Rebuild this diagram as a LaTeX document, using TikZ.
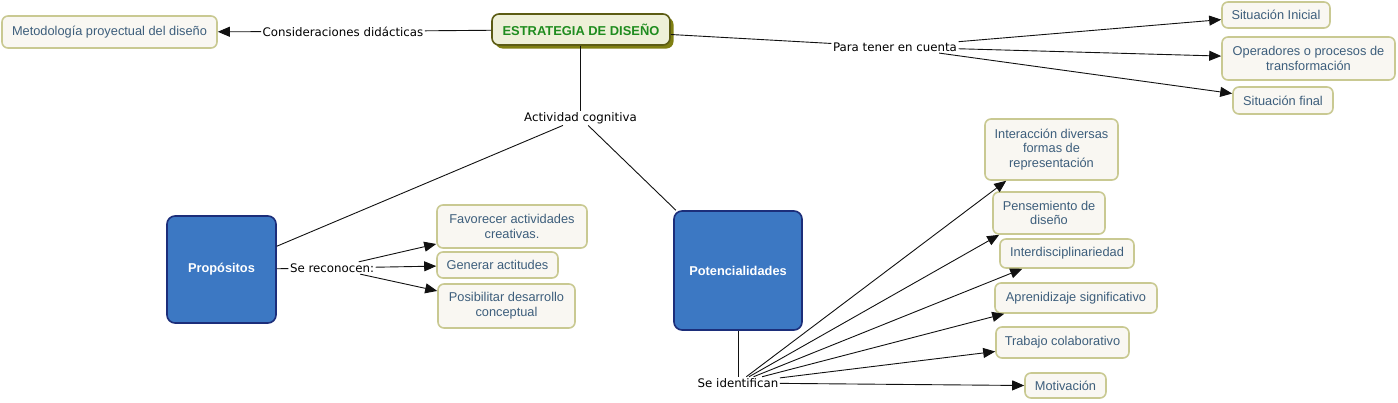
\documentclass[tikz,border=0pt]{standalone}
\usepackage{fontspec}
\usetikzlibrary{arrows.meta,shadows}
\newfontfamily\lblfont{DejaVu Sans}
\newfontfamily\boxfont{Liberation Sans}
\definecolor{boxfill}{HTML}{F9F7F2}
\definecolor{boxborder}{HTML}{C9C992}
\definecolor{boxtext}{HTML}{3D5E7C}
\definecolor{rootfill}{HTML}{EEF0D8}
\definecolor{rootborder}{HTML}{5C5C14}
\definecolor{rootshadow}{HTML}{7F7F12}
\definecolor{roottext}{HTML}{1F8C1F}
\definecolor{bluefill}{HTML}{3C78C3}
\definecolor{blueborder}{HTML}{1C2E7A}
\definecolor{linecol}{HTML}{111111}
\tikzset{
  cbox/.style={draw=boxborder, line width=1.6pt, fill=boxfill, rounded corners=6pt,
    text=boxtext, font=\boxfont\fontsize{12.8}{14.8}\selectfont, align=center,
    inner sep=0pt},
  bbox/.style={draw=blueborder, line width=1.6pt, fill=bluefill, rounded corners=8pt,
    text=white, font=\boxfont\bfseries\fontsize{12.8}{15}\selectfont, align=center,
    inner sep=0pt},
  rootbox/.style={draw=rootborder, line width=1.6pt, fill=rootfill, rounded corners=7pt,
    text=roottext, font=\boxfont\bfseries\fontsize{12.9}{15}\selectfont, inner sep=0pt,
    drop shadow={shadow xshift=3.5pt, shadow yshift=-3.5pt, fill=rootshadow, opacity=1}},
  lbl/.style={font=\lblfont\fontsize{11.8}{14}\selectfont, text=black, inner sep=1.5pt},
  conn/.style={draw=linecol, line width=0.9pt},
  arr/.style={conn, -{Triangle[length=12pt,width=10pt]}},
}
\begin{document}
\begin{tikzpicture}[x=1pt,y=-1pt]
\useasboundingbox (0,0) rectangle (1398,402);

% nodes
\node[rootbox, minimum width=178pt, minimum height=31pt] (root) at (581,29.5) {ESTRATEGIA DE DISEÑO};
\node[cbox, minimum width=215pt, minimum height=32pt] (met) at (109.5,32) {Metodología proyectual del diseño};
\node[lbl] (cons) at (343,31.5) {Consideraciones didácticas};
\node[lbl] (pt) at (895,47) {Para tener en cuenta};
\node[cbox, minimum width=108pt, minimum height=26pt] (si1) at (1276,15) {Situación Inicial};
\node[cbox, minimum width=173pt, minimum height=43pt] (op) at (1308.5,58.5) {Operadores o procesos de\\transformación};
\node[cbox, minimum width=100pt, minimum height=27pt] (sf) at (1283,100.5) {Situación final};
\node[lbl] (ac) at (580.5,118) {Actividad cognitiva};

\node[bbox, minimum width=109pt, minimum height=107pt] (prop) at (221.5,269.5) {Propósitos};
\node[lbl] (sr) at (332,268) {Se reconocen:};
\node[cbox, minimum width=150pt, minimum height=43pt] (fav) at (512,226.5) {Favorecer actividades\\creativas.};
\node[cbox, minimum width=121pt, minimum height=26pt] (gen) at (497.5,265) {Generar actitudes};
\node[cbox, minimum width=137pt, minimum height=44pt] (pos) at (506.5,306) {Posibilitar desarrollo\\conceptual};

\node[bbox, minimum width=128pt, minimum height=119pt] (pot) at (738,270.5) {Potencialidades};
\node[lbl] (sid) at (738,383) {Se identifican};
\node[cbox, minimum width=133pt, minimum height=61pt] (int) at (1051.5,149.5) {Interacción diversas\\formas de\\representación};
\node[cbox, minimum width=112pt, minimum height=42pt] (pens) at (1049,213) {Pensemiento de\\diseño};
\node[cbox, minimum width=134pt, minimum height=29pt] (inter) at (1067,253.5) {Interdisciplinariedad};
\node[cbox, minimum width=162pt, minimum height=30pt] (apr) at (1076,298) {Aprenidizaje significativo};
\node[cbox, minimum width=133pt, minimum height=31pt] (trab) at (1062.5,342.5) {Trabajo colaborativo};
\node[cbox, minimum width=81pt, minimum height=25pt] (mot) at (1065.5,385.5) {Motivación};

% connectors
\draw[conn] (root) -- (cons);
\draw[arr] (cons) -- (met);
\draw[conn] (root) -- (pt);
\draw[arr] (pt) -- (si1);
\draw[arr] (pt) -- (op);
\draw[arr] (pt) -- (sf);
\draw[conn] (root.south -| ac.north) -- (ac.north);
\draw[conn] (ac) -- (prop);
\draw[conn] (ac) -- (pot);
\draw[conn] (prop) -- (sr);
\draw[arr] (sr) -- (fav);
\draw[arr] (sr) -- (gen);
\draw[arr] (sr) -- (pos);
\draw[conn] (pot) -- (sid);
\draw[arr] (sid) -- ([xshift=22pt]int.south west);
\draw[arr] (sid) -- ([xshift=7pt]pens.south west);
\draw[arr] (sid) -- ([xshift=23pt]inter.south west);
\draw[arr] (sid) -- ([xshift=10pt]apr.south west);
\draw[arr] (sid) -- ([yshift=-9pt]trab.west);
\draw[arr] (sid) -- (mot.west);
\end{tikzpicture}
\end{document}
